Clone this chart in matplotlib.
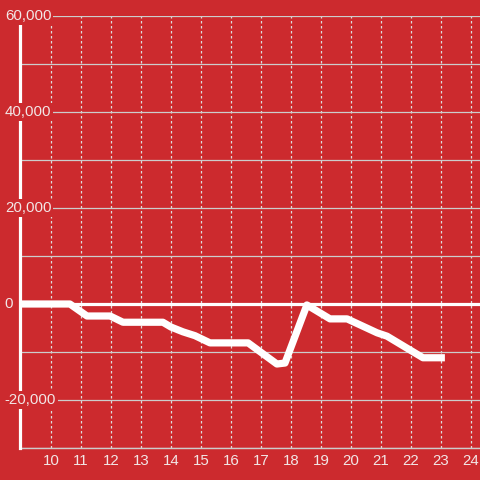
import matplotlib.pyplot as plt

# hour of day vs running total
hours = [8.97, 10.63, 11.2, 11.97, 12.4, 13.73, 14.0, 14.4, 14.8, 15.3, 16.57,
         17.53, 17.8, 18.53, 19.3, 19.87, 20.87, 21.2, 22.4, 23.13]
values = [0, 0, -2500, -2500, -3800, -3800, -4800, -5800, -6600, -8100, -8100,
          -12500, -12300, -200, -3100, -3100, -6000, -6700, -11200, -11200]

x_ticks = list(range(10, 25))
y_grid = list(range(-30000, 60001, 10000))
y_labels = [60000, 40000, 20000, 0, -20000]

bg = '#cc2a2e'
txt = '#f2e6e6'

plt.rcParams['font.family'] = ['Liberation Sans', 'DejaVu Sans']

fig = plt.figure(figsize=(4.8, 4.8), dpi=100, facecolor=bg)
ax = fig.add_axes([20/480, 32/480, 460/480, 432/480], facecolor=bg)

ax.set_xlim(8.967, 24.3)
ax.set_ylim(-30000, 60000)

for s in ['top', 'right']:
    ax.spines[s].set_visible(False)
ax.spines['left'].set_color('white')
ax.spines['left'].set_linewidth(2.3)
ax.spines['left'].set_zorder(3)
ax.spines['bottom'].set_color('#cccccc')
ax.spines['bottom'].set_linewidth(1)

ax.set_yticks(y_grid)
ax.set_yticklabels([])
ax.tick_params(axis='y', length=0)
ax.set_xticks(x_ticks)
ax.set_xticklabels([str(t) for t in x_ticks], color=txt, fontsize=10.8)
ax.tick_params(axis='x', length=0, pad=4)

ax.grid(axis='y', color='#cccccc', linewidth=0.9)
ax.grid(axis='x', color='#dddddd', linewidth=0.9, linestyle=(0, (2, 2)))
ax.set_axisbelow(True)

ax.axhline(0, color='white', linewidth=2.3, zorder=2)

for v in y_labels:
    ax.text(-0.033, v, f'{v:,}', transform=ax.get_yaxis_transform(),
            ha='left', va='center', color=txt, fontsize=10.8, zorder=5,
            clip_on=False,
            bbox=dict(facecolor=bg, edgecolor='none', pad=1.5))

ax.plot(hours, values, color='white', linewidth=5.2, solid_joinstyle='round',
        solid_capstyle='butt', zorder=4)

plt.savefig('out.png', dpi=100, facecolor=bg)
